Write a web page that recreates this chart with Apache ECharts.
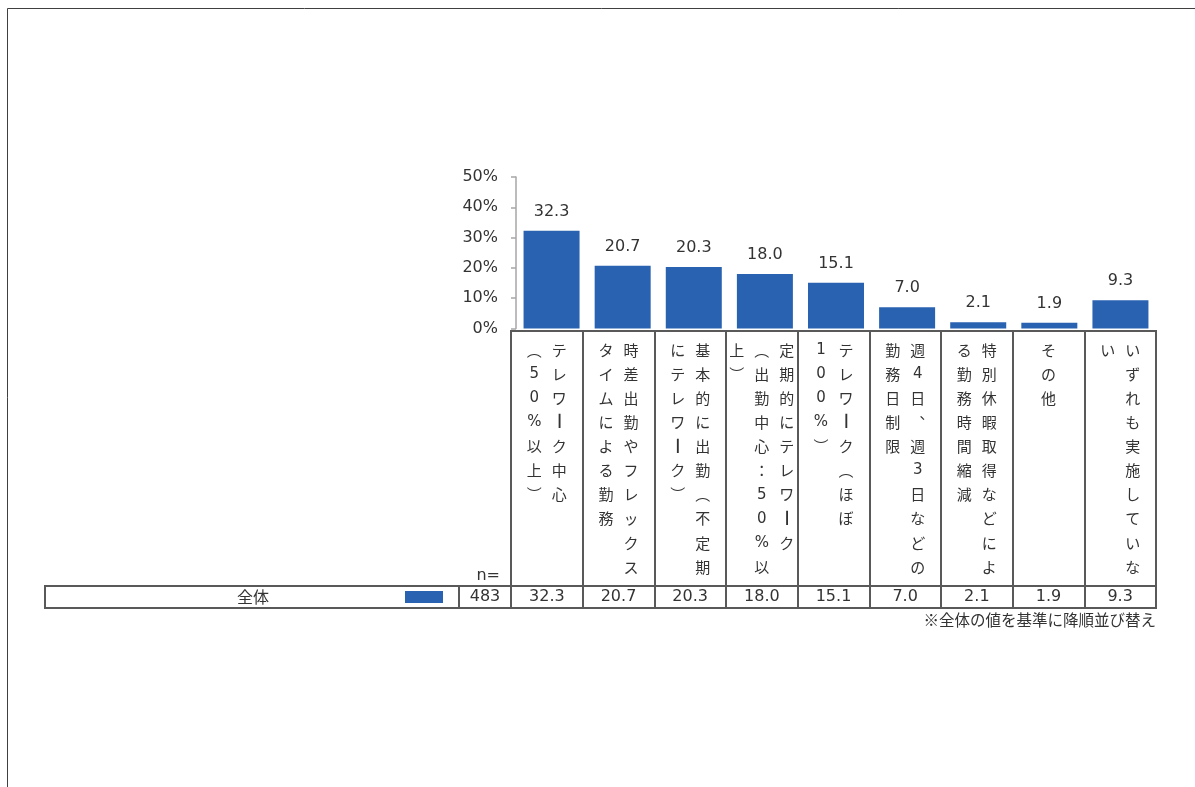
<!DOCTYPE html>
<html>
<head>
<meta charset="utf-8">
<script src="https://cdn.jsdelivr.net/npm/echarts@6/dist/echarts.min.js"></script>
<style>
html,body{margin:0;padding:0;background:#fff;}
#chart{width:1195px;height:787px;}
</style>
</head>
<body>
<div id="chart"></div>
<script>
// ---- data ----
const categories = [
  'テレワーク中心（50%以上）',
  '時差出勤やフレックスタイムによる勤務',
  '基本的に出勤（不定期にテレワーク）',
  '定期的にテレワーク（出勤中心：50%以上）',
  'テレワーク（ほぼ100%）',
  '週4日、週3日などの勤務日制限',
  '特別休暇取得などによる勤務時間縮減',
  'その他',
  'いずれも実施していない'
];
const values = [32.3, 20.7, 20.3, 18.0, 15.1, 7.0, 2.1, 1.9, 9.3];
const seriesName = '全体';
const sampleSize = 483;
const sampleLabel = 'n=';
const yMin = 0, yMax = 50, yStep = 10;
const footnote = '※全体の値を基準に降順並び替え';

// ---- helpers ----
const LINE = '#595959';
const TXT = '#333333';
const NUMFONT = "'DejaVu Sans', 'Noto Sans CJK JP', sans-serif";
const JPFONT = "'Noto Sans CJK JP', sans-serif";

function wrapColumns(text, maxLen) {
  const chars = Array.from(text);
  const units = [];
  let i = 0;
  const alnum = /[0-9A-Za-z%.]/;
  while (i < chars.length) {
    if (alnum.test(chars[i])) {
      let j = i;
      while (j < chars.length && alnum.test(chars[j])) j++;
      units.push(chars.slice(i, j));
      i = j;
    } else { units.push([chars[i]]); i++; }
  }
  const cols = [];
  let cur = [];
  for (const u of units) {
    if (cur.length + u.length > maxLen && cur.length) {
      const carry = [];
      while (cur.length && '（('.includes(cur[cur.length - 1])) carry.unshift(cur.pop());
      cols.push(cur);
      cur = carry;
    }
    cur = cur.concat(u);
  }
  if (cur.length) cols.push(cur);
  return cols;
}
const VERT = {'（':'︵','）':'︶','、':'︑','(':'︵',')':'︶'};
function verticalLabel(text) {
  const cols = wrapColumns(text, 10);
  const rows = Math.max(...cols.map(c => c.length));
  const lines = [];
  for (let r = 0; r < rows; r++) {
    let s = '';
    for (let c = cols.length - 1; c >= 0; c--) {
      let ch = cols[c][r] || '　';
      let st = 'v';
      if (ch === 'ー') { ch = '┃'; st = 'b'; }
      else if (/[0-9%]/.test(ch)) st = 'd';
      ch = VERT[ch] || ch;
      s += '{' + st + '|' + ch + '}';
    }
    lines.push(s);
  }
  return lines.join('\n');
}

const W = 1195;
const tableLeft = 511, tableRight = W - 1156;
const catTop = 331, rowTop = 586, rowH = 22;
const leftCellX = 45, nCellX = 459;

const chart = echarts.init(document.getElementById('chart'));
const hiddenY = (gi) => ({type: 'value', gridIndex: gi, show: false});
const boxGrid = (left, right, top, height) => ({
  left, right, top, height, show: true, borderColor: LINE, borderWidth: 2, backgroundColor: 'transparent'
});
const cell = {width: 25, align: 'center', fontSize: 15, lineHeight: 24.1, color: TXT, fontFamily: JPFONT};

chart.setOption({
  backgroundColor: '#ffffff',
  animation: false,
  legend: {
    data: [seriesName],
    left: 106, top: 589, padding: 0,
    icon: 'rect', itemWidth: 38, itemHeight: 12, align: 'right',
    selectedMode: false,
    formatter: (n) => '{a|' + n + '}',
    textStyle: {
      rich: {a: {width: 294, align: 'center', fontSize: 16, lineHeight: 12, color: TXT, fontFamily: JPFONT}}
    }
  },
  grid: [
    {left: 516, right: tableRight, top: 177, height: 151.5},
    boxGrid(tableLeft, tableRight, catTop, rowTop - catTop),
    boxGrid(tableLeft, tableRight, rowTop, rowH),
    boxGrid(leftCellX, W - tableLeft, rowTop, rowH),
    boxGrid(nCellX, W - tableLeft, rowTop, rowH)
  ],
  xAxis: [
    {type: 'category', gridIndex: 0, data: categories, show: false},
    {
      type: 'category', gridIndex: 1, data: categories, position: 'top',
      axisLine: {show: false}, axisTick: {show: false},
      splitLine: {show: true, interval: 0, lineStyle: {color: LINE, width: 2}},
      axisLabel: {
        inside: true, margin: 7, interval: 0, verticalAlign: 'top',
        formatter: (v) => verticalLabel(v),
        rich: {
          v: cell,
          d: Object.assign({}, cell, {fontFamily: NUMFONT, fontSize: 15}),
          b: Object.assign({}, cell, {fontSize: 12, fontFamily: "'DejaVu Sans', sans-serif"})
        }
      }
    },
    {
      type: 'category', gridIndex: 2, data: categories, position: 'top',
      axisLine: {show: false}, axisTick: {show: false},
      splitLine: {show: true, interval: 0, lineStyle: {color: LINE, width: 2}},
      axisLabel: {
        inside: true, margin: 11, interval: 0, verticalAlign: 'middle',
        formatter: (v, i) => values[i].toFixed(1),
        fontSize: 16, color: TXT, fontFamily: NUMFONT
      }
    },
    {type: 'category', gridIndex: 3, data: [''], show: false},
    {
      type: 'category', gridIndex: 4, data: [String(sampleSize)], position: 'top',
      axisLine: {show: false}, axisTick: {show: false},
      axisLabel: {inside: true, margin: 11, verticalAlign: 'middle', fontSize: 16, color: TXT, fontFamily: NUMFONT}
    }
  ],
  yAxis: [
    {
      type: 'value', gridIndex: 0, min: yMin, max: yMax, interval: yStep,
      axisLine: {show: true, lineStyle: {color: '#a6a6a6', width: 1.5}},
      axisTick: {show: true, length: 5, lineStyle: {color: '#a6a6a6', width: 1.5}},
      splitLine: {show: false},
      axisLabel: {formatter: '{value}%', fontSize: 16, color: TXT, margin: 18, fontFamily: NUMFONT}
    },
    hiddenY(1), hiddenY(2), hiddenY(3), hiddenY(4)
  ],
  series: [{
    name: seriesName, type: 'bar', xAxisIndex: 0, yAxisIndex: 0,
    data: values, barWidth: 56,
    itemStyle: {color: '#2862B0'},
    label: {
      show: true, position: 'top', distance: 11,
      formatter: (p) => p.value.toFixed(1),
      fontSize: 16, color: TXT, fontFamily: NUMFONT
    }
  }],
  graphic: [
    {type: 'line', shape: {x1: 7.5, y1: 8.5, x2: W, y2: 8.5}, style: {stroke: '#404040', lineWidth: 1}},
    {type: 'line', shape: {x1: 7.5, y1: 8.5, x2: 7.5, y2: 787}, style: {stroke: '#404040', lineWidth: 1}},
    {type: 'text', x: 500, y: 576, style: {text: sampleLabel, align: 'right', verticalAlign: 'middle', fontSize: 16, fill: TXT, fontFamily: NUMFONT}},
    {type: 'text', x: 1156, y: 620, style: {text: footnote, align: 'right', verticalAlign: 'middle', fontSize: 15.5, fill: TXT, fontFamily: JPFONT}}
  ]
});
</script>
</body>
</html>
